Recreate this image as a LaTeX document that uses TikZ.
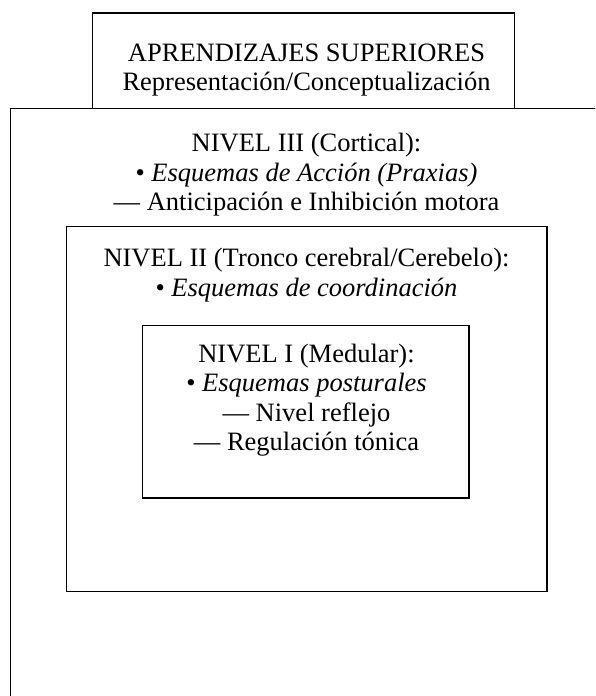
\documentclass[tikz,border=0pt]{standalone}
\usepackage{fontspec}
\setmainfont{Liberation Serif}
\tikzset{
  frame/.style={draw=black, line width=1.2pt},
  txt/.style={anchor=base, inner sep=0pt, font=\fontsize{26.5}{29.5}\selectfont}
}
\begin{document}
\begin{tikzpicture}[x=1pt,y=-1pt]
\clip (0,0) rectangle (595,696);
\fill[white] (0,0) rectangle (595,696);
% outer (cut-off) box
\draw[frame] (600,108.3) -- (10.3,108.3) -- (10.3,705);
% top box
\draw[frame] (92.3,108.3) -- (92.3,13) -- (514.7,13) -- (514.7,108.3);
% level II box
\draw[frame] (66.7,226.7) rectangle (547,591.7);
% level I box
\draw[frame] (142.3,325.3) rectangle (469,498);
% texts
\node[txt] (t1) at (306.5,61) {APRENDIZAJES SUPERIORES};
\node[txt] (t2) at (306.5,90.5) {Representación/Conceptualización};
\node[txt] (n3a) at (306.5,151.7) {NIVEL III (Cortical):};
\node[txt] (n3b) at (306.5,181) {• \textit{Esquemas de Acción (Praxias)}};
\node[txt] (n3c) at (306.5,210.5) {— Anticipación e Inhibición motora};
\node[txt] (n2a) at (306.5,266.7) {NIVEL II (Tronco cerebral/Cerebelo):};
\node[txt] (n2b) at (306.5,296.2) {• \textit{Esquemas de coordinación}};
\node[txt] (n1a) at (306.5,362.7) {NIVEL I (Medular):};
\node[txt] (n1b) at (306.5,391.8) {• \textit{Esquemas posturales}};
\node[txt] (n1c) at (306.5,421.3) {— Nivel reflejo};
\node[txt] (n1d) at (306.5,450.7) {— Regulación tónica};
\end{tikzpicture}
\end{document}
